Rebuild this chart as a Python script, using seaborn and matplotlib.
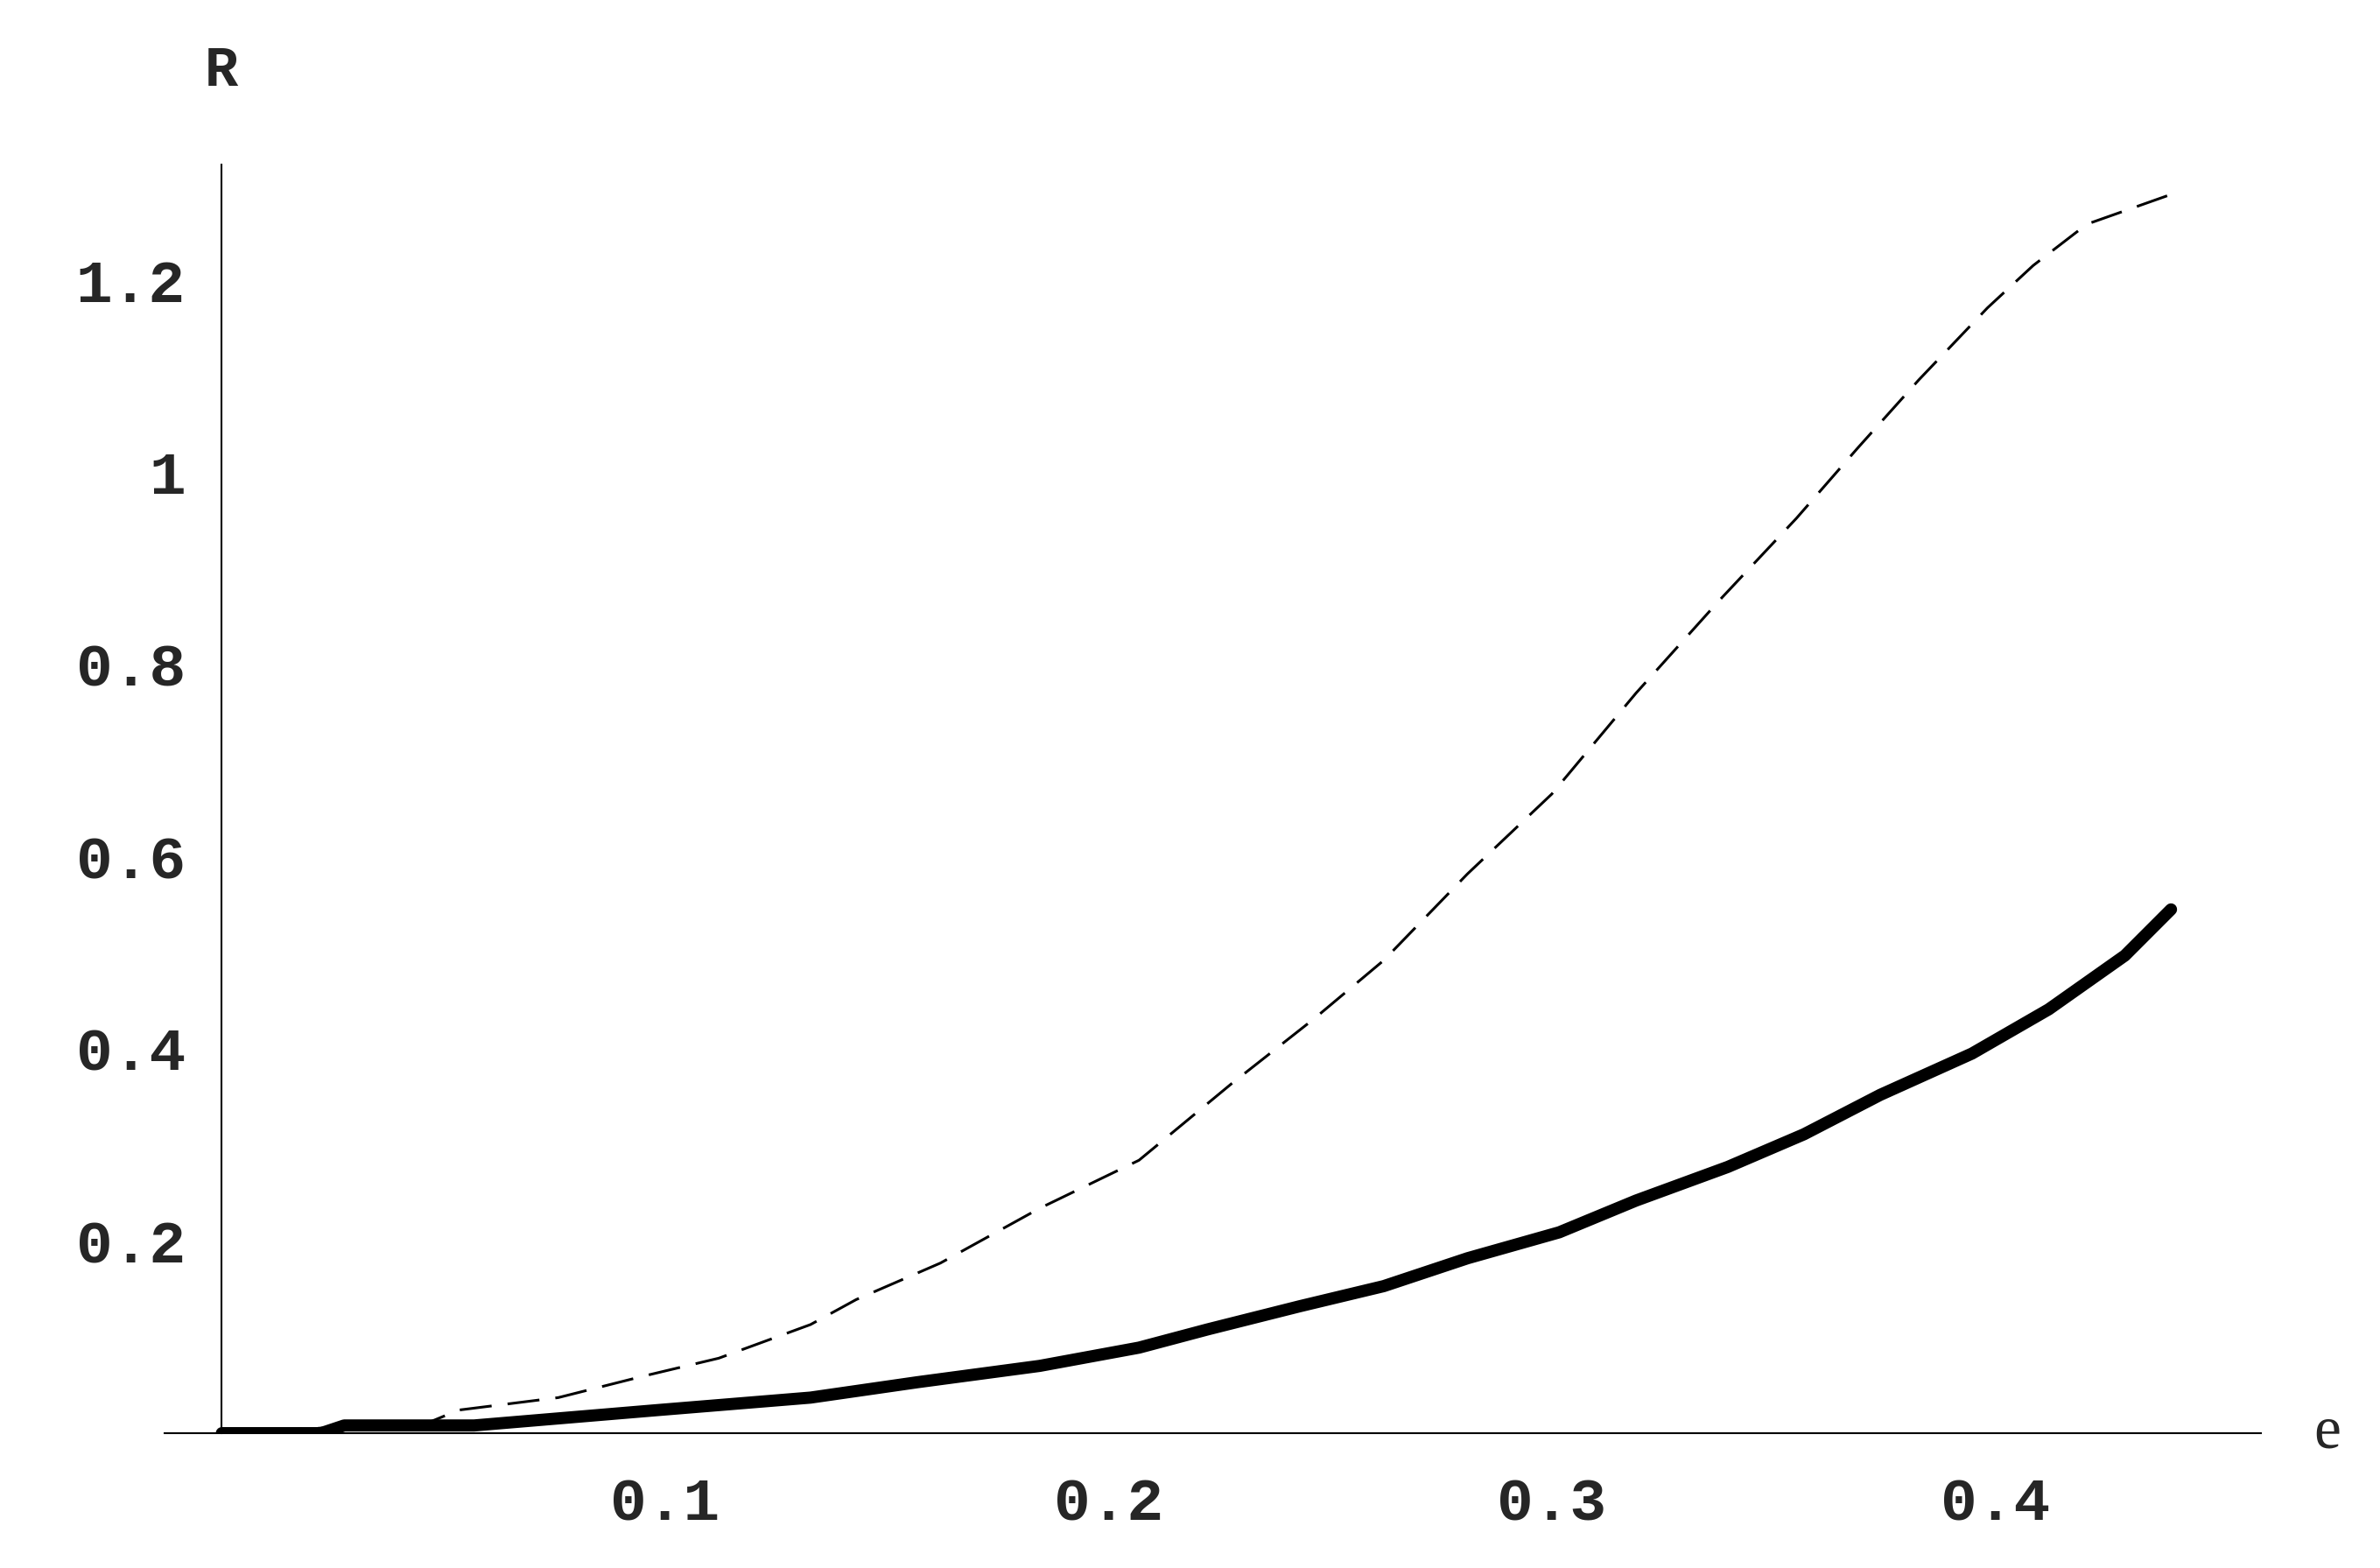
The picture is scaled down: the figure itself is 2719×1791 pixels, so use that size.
import matplotlib
matplotlib.use("Agg")
import matplotlib.pyplot as plt
import seaborn as sns
import numpy as np
from matplotlib.ticker import MultipleLocator, FixedLocator

sns.set_style("white")

solid_px = [(142,937),(210,937),(225,932),(310,932),(430,922),(530,914),(600,904),(680,893),(745,881),(790,869),(850,854),(905,841),(960,823),(1020,806),(1070,785),(1130,763),(1180,742),(1230,716),(1290,689),(1340,660),(1390,625),(1420,595)]
dash_px = [(142,937),(280,930),(300,922),(365,914),(420,900),(470,888),(530,866),(560,850),(615,826),(680,790),(745,759),(805,709),(860,666),(905,628),(960,572),(1015,520),(1070,454),(1125,393),(1175,340),(1215,294),(1255,250),(1300,203),(1330,175),(1365,148),(1420,129)]
solid_e = [0.0, 0.0224, 0.0276, 0.0569, 0.0983, 0.1328, 0.1569, 0.1845, 0.2069, 0.2224, 0.2431, 0.2621, 0.2810, 0.3017, 0.3190, 0.3397, 0.3569, 0.3741, 0.3948, 0.4121, 0.4293, 0.4397]
solid_R = [0.0, 0.0, 0.008, 0.008, 0.024, 0.037, 0.053, 0.070, 0.089, 0.108, 0.132, 0.153, 0.182, 0.209, 0.242, 0.277, 0.311, 0.352, 0.395, 0.441, 0.497, 0.545]
dash_e = [0.0, 0.0466, 0.0534, 0.0759, 0.0948, 0.1121, 0.1328, 0.1431, 0.1621, 0.1845, 0.2069, 0.2276, 0.2466, 0.2621, 0.2810, 0.3000, 0.3190, 0.3379, 0.3552, 0.3690, 0.3828, 0.3983, 0.4086, 0.4207, 0.4397]
dash_R = [0.0, 0.011, 0.024, 0.037, 0.059, 0.078, 0.113, 0.139, 0.177, 0.234, 0.284, 0.363, 0.432, 0.492, 0.582, 0.665, 0.770, 0.867, 0.952, 1.025, 1.096, 1.171, 1.215, 1.258, 1.289]

fig = plt.figure(figsize=(27.19, 17.91), dpi=100)
ax = fig.add_axes([0.069, 0.086, 0.881, 0.809])
sns.lineplot(x=solid_e, y=solid_R, ax=ax, color="black", lw=10, sort=False, estimator=None)
sns.lineplot(x=dash_e, y=dash_R, ax=ax, color="black", lw=2.2, sort=False, estimator=None, dashes=False)
ax.lines[-1].set_dashes([12, 6])

ax.set_xlim(-0.013, 0.46)
ax.set_ylim(0, 1.32)
for s in ["top", "right"]:
    ax.spines[s].set_visible(False)
ax.spines["left"].set_position(("data", 0))
ax.spines["bottom"].set_position(("data", 0))
for s in ["left", "bottom"]:
    ax.spines[s].set_linewidth(1.5)
    ax.spines[s].set_color("black")

ax.xaxis.set_major_locator(FixedLocator([0.1, 0.2, 0.3, 0.4]))
ax.xaxis.set_minor_locator(MultipleLocator(0.02))
ax.yaxis.set_major_locator(FixedLocator([0.2, 0.4, 0.6, 0.8, 1.0, 1.2]))
ax.yaxis.set_minor_locator(MultipleLocator(0.05))
ax.set_xticklabels(["0.1", "0.2", "0.3", "0.4"])
ax.set_yticklabels(["0.2", "0.4", "0.6", "0.8", "1", "1.2"])
ax.tick_params(axis="x", which="major", direction="inout", length=22, width=1.5, pad=25)
ax.tick_params(axis="x", which="minor", direction="inout", length=12, width=1.2)
ax.tick_params(axis="y", which="major", direction="in", length=22, width=1.5, pad=30)
ax.tick_params(axis="y", which="minor", direction="in", length=12, width=1.2)
for lab in ax.get_xticklabels() + ax.get_yticklabels():
    lab.set_fontfamily("Liberation Mono")
    lab.set_fontweight("bold")
    lab.set_fontsize(50)

fig.text(0.093, 0.955, "R", fontfamily="Liberation Mono", fontweight="bold", fontsize=46, ha="center", va="center")
fig.text(0.978, 0.086, "e", fontfamily="Liberation Serif", fontsize=50, ha="center", va="center")

fig.savefig("out.png", dpi=100)
